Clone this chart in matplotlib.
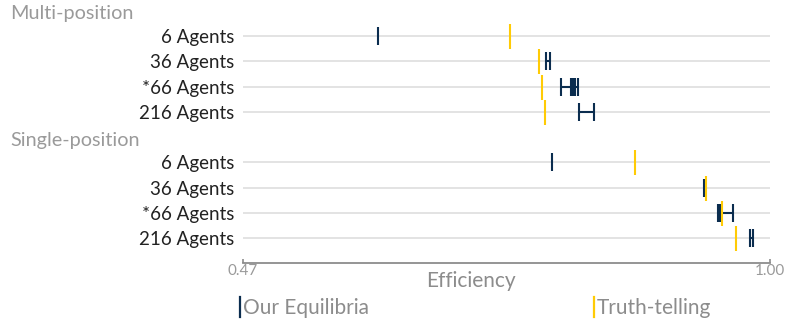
import matplotlib
matplotlib.use("Agg")
import matplotlib.pyplot as plt
from matplotlib.lines import Line2D
from matplotlib.transforms import blended_transform_factory

plt.rcParams['font.family'] = ['Lato', 'DejaVu Sans']

# data
groups = ['Multi-position', 'Single-position']
row_labels = ['6 Agents', '36 Agents', '*66 Agents', '216 Agents']

# each row: efficiencies of the equilibria found
multi_ours = [
    [0.6055],
    [0.7752, 0.7792],
    [0.7900, 0.7994, 0.8019, 0.8040, 0.8066],
    [0.8084, 0.8235],
]
single_ours = [
    [0.7805],
    [0.9336],
    [0.9480, 0.9497, 0.9625],
    [0.9799, 0.9832],
]
multi_truth = [0.739, 0.768, 0.771, 0.774]
single_truth = [0.8642, 0.9354, 0.9520, 0.9658]

x_min, x_max = 0.47, 1.00

NAVY = '#0b2d4f'
MAIZE = '#ffcb05'
GRID = '#dedede'
GREY = '#8c8c8c'

fig = plt.figure(figsize=(7.9, 3.26), dpi=100)
ax = fig.add_axes([243 / 790, 1 - 262.7 / 326, 527 / 790, 262.7 / 326])

ours_all = [multi_ours, single_ours]
truth_all = [multi_truth, single_truth]

ytick_pos = []
ytick_lab = []
header_pos = []
row = -1
for g, name in enumerate(groups):
    header_pos.append(row)
    row += 1
    for i, lab in enumerate(row_labels):
        y = row
        ytick_pos.append(y)
        ytick_lab.append(lab)
        ax.hlines(y, x_min, x_max, color=GRID, lw=1.2, zorder=1)
        vals = ours_all[g][i]
        if len(vals) > 1:
            ax.hlines(y, min(vals), max(vals), color=NAVY, lw=1.5, zorder=3)
        ax.plot(vals, [y] * len(vals), ls='none', marker='|', ms=12.5,
                mew=1.5, color=NAVY, zorder=3)
        ax.plot([truth_all[g][i]], [y], ls='none', marker='|', ms=18,
                mew=1.5, color=MAIZE, zorder=4)
        row += 1

ax.set_xlim(x_min, x_max)
ax.set_ylim(8.96, -1.42)

# group headers
trans = blended_transform_factory(fig.transFigure, ax.transData)
for name, y in zip(groups, header_pos):
    ax.text(10 / 790, y + 0.12, name, transform=trans, ha='left', va='center',
            fontsize=14.3, color='#9a9a9a')

ax.set_yticks(ytick_pos)
ax.set_yticklabels(ytick_lab, fontsize=13.5, color='#222222')
ax.tick_params(axis='y', length=0, pad=6)

ax.set_xticks([x_min, x_max])
ax.set_xticklabels(['0.47', '1.00'], fontsize=11, color='#9a9a9a')
ax.tick_params(axis='x', direction='in', length=3, width=1.2, color=GREY, pad=1)

for s in ['top', 'right', 'left']:
    ax.spines[s].set_visible(False)
ax.spines['bottom'].set_color(GREY)
ax.spines['bottom'].set_linewidth(1.3)

fig.text(471 / 790, 1 - 281 / 326, 'Efficiency', ha='center', va='center',
         fontsize=15, color=GREY)

# legend
for bx, tx, col, txt in [(239.5, 243, NAVY, 'Our Equilibria'),
                         (593.5, 597, MAIZE, 'Truth-telling')]:
    fig.add_artist(Line2D([bx / 790, bx / 790], [1 - 317 / 326, 1 - 297 / 326],
                          transform=fig.transFigure, color=col, lw=1.6))
    fig.text(tx / 790, 1 - 308 / 326, txt, ha='left', va='center',
             fontsize=15, color=GREY)

fig.savefig('out.png', dpi=100)
